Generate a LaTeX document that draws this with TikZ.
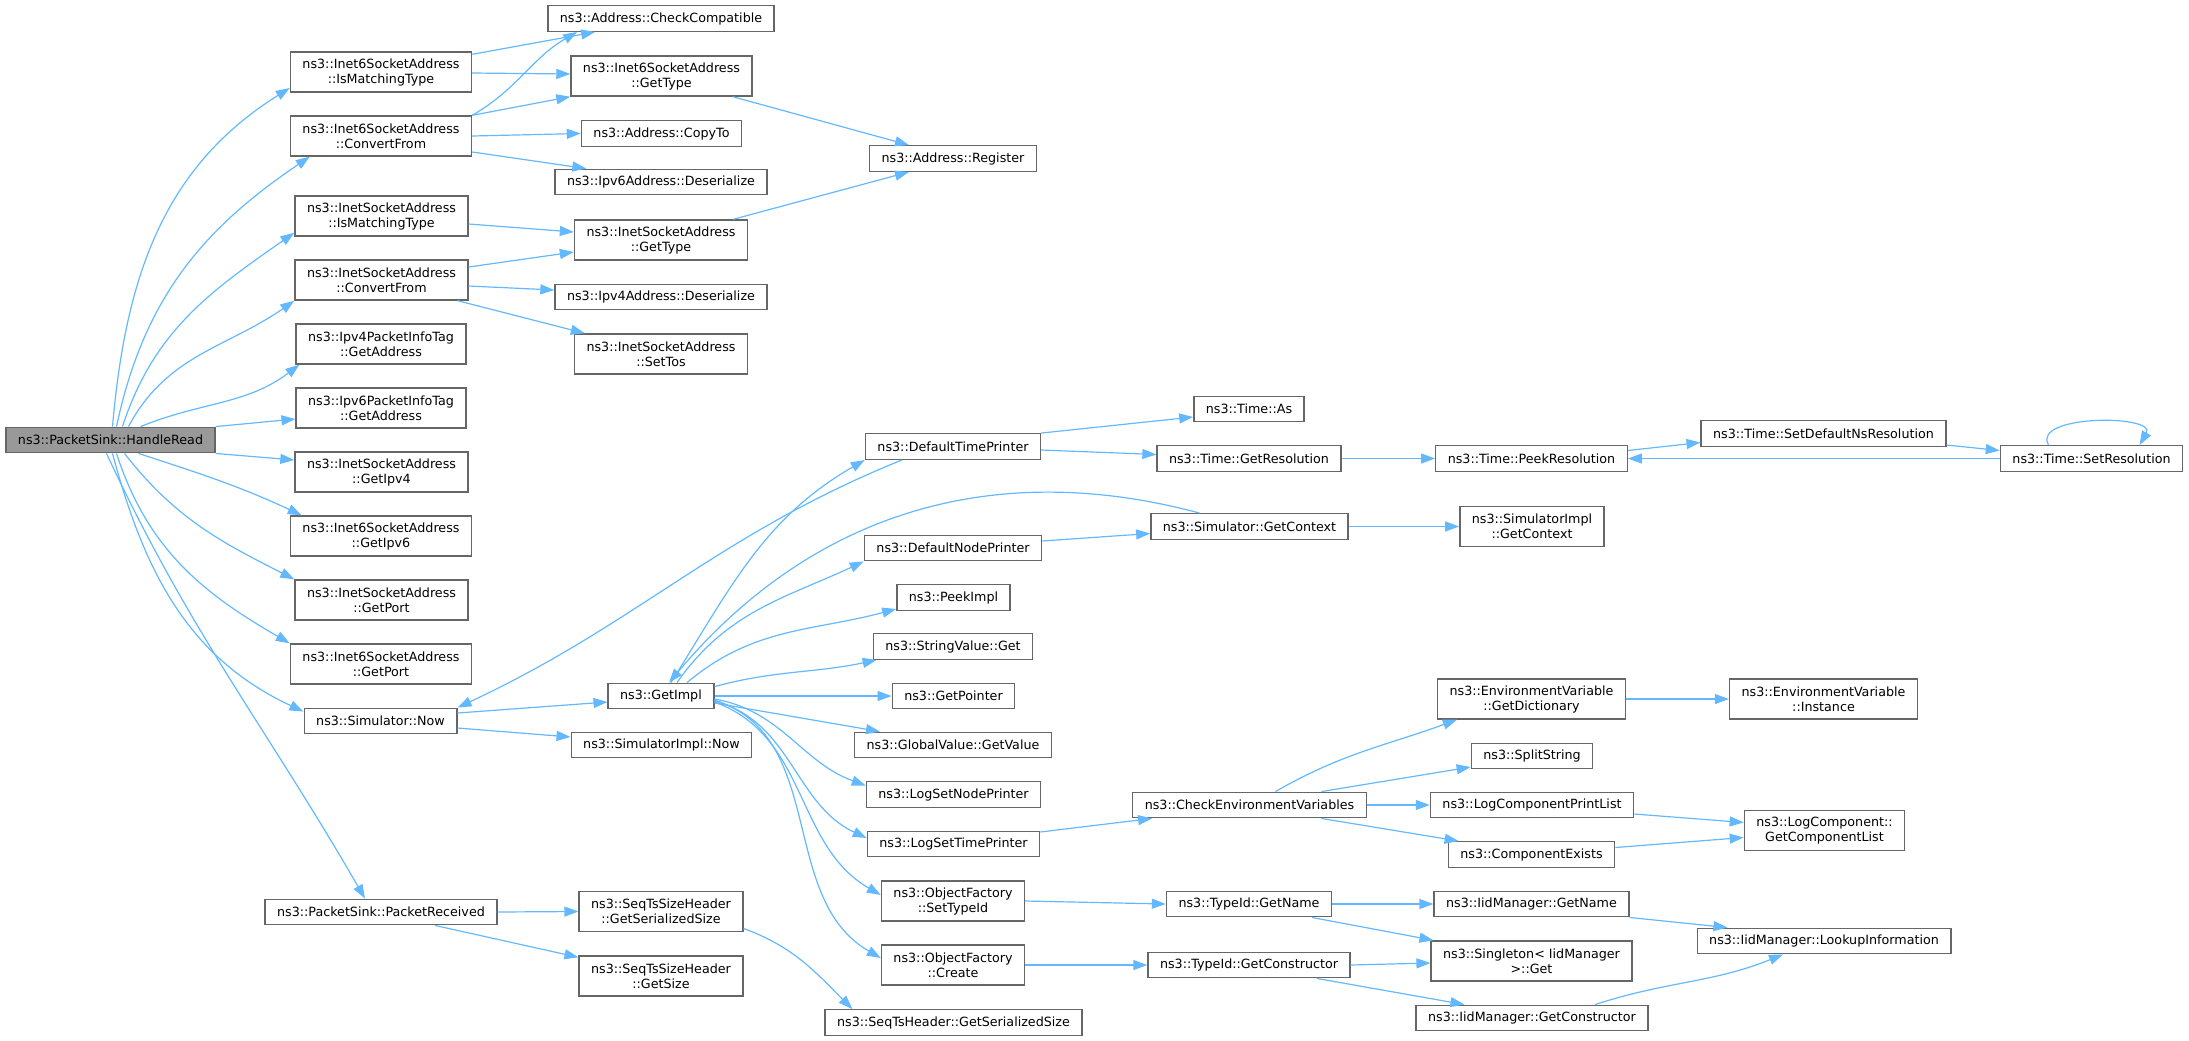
\documentclass[tikz,border=0pt]{standalone}
\usepackage{fontspec}
\setmainfont{DejaVu Sans}
\usepackage{tikz}
\usetikzlibrary{arrows.meta}
\definecolor{edgeblue}{HTML}{63B8FF}
\definecolor{boxgray}{HTML}{666666}
\definecolor{rootgray}{HTML}{999999}
\tikzset{>={Triangle[length=7pt,width=5pt]},
  fn/.style={draw=boxgray,fill=white,line width=0.7pt,inner xsep=6pt,inner ysep=1pt,
    minimum height=12.75pt,font=\fontsize{6.35pt}{7.5pt}\selectfont},
  fn2/.style={fn,align=center,minimum height=20pt},
  root/.style={fn,fill=rootgray},
  call/.style={->,color=edgeblue,line width=0.6pt}}

\begin{document}
\begin{tikzpicture}[x=0.5pt,y=0.5pt]
\useasboundingbox (0,0) rectangle (2189,-1040);
\node[root] (hr) at (110.5,-440) {ns3::PacketSink::HandleRead};
\node[fn2] (i6match) at (381,-72) {ns3::Inet6SocketAddress\\::IsMatchingType};
\node[fn2] (i6conv) at (381,-136) {ns3::Inet6SocketAddress\\::ConvertFrom};
\node[fn2] (imatch) at (381.5,-216) {ns3::InetSocketAddress\\::IsMatchingType};
\node[fn2] (iconv) at (381.5,-280) {ns3::InetSocketAddress\\::ConvertFrom};
\node[fn2] (v4tag) at (381,-344) {ns3::Ipv4PacketInfoTag\\::GetAddress};
\node[fn2] (v6tag) at (381,-408) {ns3::Ipv6PacketInfoTag\\::GetAddress};
\node[fn2] (getv4) at (381.5,-472) {ns3::InetSocketAddress\\::GetIpv4};
\node[fn2] (getv6) at (381,-536) {ns3::Inet6SocketAddress\\::GetIpv6};
\node[fn2] (iport) at (381.5,-600) {ns3::InetSocketAddress\\::GetPort};
\node[fn2] (i6port) at (381,-664) {ns3::Inet6SocketAddress\\::GetPort};
\node[fn] (snow) at (380.5,-721) {ns3::Simulator::Now};
\node[fn] (prcv) at (381,-912) {ns3::PacketSink::PacketReceived};

\node[fn] (cc) at (661,-18.5) {ns3::Address::CheckCompatible};
\node[fn2] (i6type) at (661.5,-76) {ns3::Inet6SocketAddress\\::GetType};
\node[fn] (copyto) at (661.5,-133.5) {ns3::Address::CopyTo};
\node[fn] (v6des) at (661,-182) {ns3::Ipv6Address::Deserialize};
\node[fn2] (itype) at (661,-240) {ns3::InetSocketAddress\\::GetType};
\node[fn] (v4des) at (661,-297) {ns3::Ipv4Address::Deserialize};
\node[fn2] (settos) at (661,-354) {ns3::InetSocketAddress\\::SetTos};
\node[fn] (gimpl) at (661,-696) {ns3::GetImpl};
\node[fn] (sinow) at (661.5,-745) {ns3::SimulatorImpl::Now};
\node[fn2] (tsssz) at (661,-911.5) {ns3::SeqTsSizeHeader\\::GetSerializedSize};
\node[fn2] (tsgsz) at (661,-976) {ns3::SeqTsSizeHeader\\::GetSize};

\node[fn] (reg) at (953,-158.5) {ns3::Address::Register};
\node[fn] (dtp) at (953,-446.5) {ns3::DefaultTimePrinter};
\node[fn] (dnp) at (953,-548) {ns3::DefaultNodePrinter};
\node[fn] (peek) at (953.5,-597.5) {ns3::PeekImpl};
\node[fn] (strget) at (953,-646.5) {ns3::StringValue::Get};
\node[fn] (getptr) at (953.5,-696) {ns3::GetPointer};
\node[fn] (gvget) at (953,-745) {ns3::GlobalValue::GetValue};
\node[fn] (lsnp) at (953.5,-794.5) {ns3::LogSetNodePrinter};
\node[fn] (lstp) at (953.5,-844) {ns3::LogSetTimePrinter};
\node[fn2] (ofst) at (953,-901) {ns3::ObjectFactory\\::SetTypeId};
\node[fn2] (ofcr) at (953,-965) {ns3::ObjectFactory\\::Create};
\node[fn] (tshsz) at (953.5,-1022.5) {ns3::SeqTsHeader::GetSerializedSize};

\node[fn] (tas) at (1249,-409) {ns3::Time::As};
\node[fn] (tgres) at (1249,-458.5) {ns3::Time::GetResolution};
\node[fn] (sgc) at (1249.5,-526.5) {ns3::Simulator::GetContext};
\node[fn] (cenv) at (1249.5,-805) {ns3::CheckEnvironmentVariables};
\node[fn] (tgname) at (1249,-904) {ns3::TypeId::GetName};
\node[fn] (tgctor) at (1249,-965) {ns3::TypeId::GetConstructor};

\node[fn] (tpeek) at (1531.5,-458.5) {ns3::Time::PeekResolution};
\node[fn2] (sic) at (1532,-526.5) {ns3::SimulatorImpl\\::GetContext};
\node[fn2] (evdict) at (1531.5,-699) {ns3::EnvironmentVariable\\::GetDictionary};
\node[fn] (split) at (1532,-756) {ns3::SplitString};
\node[fn] (lcpl) at (1532,-805) {ns3::LogComponentPrintList};
\node[fn] (cexists) at (1531.5,-854.5) {ns3::ComponentExists};
\node[fn] (iigname) at (1531.5,-904) {ns3::IidManager::GetName};
\node[fn2] (singl) at (1531.5,-961) {ns3::Singleton< IidManager\\ >::Get};
\node[fn] (iigctor) at (1532,-1018) {ns3::IidManager::GetConstructor};

\node[fn] (tsdns) at (1823.5,-433.5) {ns3::Time::SetDefaultNsResolution};
\node[fn2] (evinst) at (1823.5,-699) {ns3::EnvironmentVariable\\::Instance};
\node[fn2] (lcgcl) at (1824.5,-830.5) {ns3::LogComponent::\\GetComponentList};
\node[fn] (iilookup) at (1824,-941) {ns3::IidManager::LookupInformation};
\node[fn] (tsres) at (2091.5,-458.5) {ns3::Time::SetResolution};

\path[call]
([xshift=1pt]hr.north) edge[out=85,in=-148] ([yshift=-8pt]i6match.west)
([xshift=3pt]hr.north) edge[out=78,in=-146] ([xshift=10pt]i6conv.south west)
([xshift=6pt]hr.north) edge[out=72,in=-145] ([yshift=2pt]imatch.south west)
([xshift=9pt]hr.north) edge[out=62,in=-145] (iconv.south west)
([xshift=15pt]hr.north) edge[out=22,in=-143] ([xshift=2pt]v4tag.south west)
(hr.north east) edge ([yshift=-5.5pt]v6tag.west)
(hr.south east) edge ([yshift=6pt]getv4.west)
([xshift=14pt]hr.south) edge[out=-18,in=155] ([xshift=6pt]getv6.north west)
([xshift=7pt]hr.south) edge[out=-52,in=153] (iport.north west)
([xshift=3pt]hr.south) edge[out=-72,in=150] (i6port.north west)
([xshift=1pt]hr.south) edge[out=-75,in=155] ([yshift=-2pt]snow.north west)
([xshift=-2pt]hr.south) edge[out=-65,in=120] ([xshift=-8pt]prcv.north)
([yshift=-1.5pt]i6match.north east) edge ([xshift=24pt]cc.south west)
([yshift=-0.5pt]i6match.east) edge ([yshift=1pt]i6type.west)
(i6conv.north east) edge[out=30,in=-150] ([xshift=15pt]cc.south west)
(i6conv.north east) edge (i6type.south west)
(i6conv.east) edge (copyto.west)
([yshift=-8pt]i6conv.east) edge ([xshift=16pt]v6des.north west)
([yshift=-4pt]imatch.east) edge ([yshift=4pt]itype.west)
([yshift=6.5pt]iconv.east) edge ([yshift=-6pt]itype.west)
([yshift=-3pt]iconv.east) edge ([yshift=3.5pt]v4des.west)
([xshift=-5.5pt]iconv.south east) edge ([xshift=5.5pt]settos.north west)
([xshift=-10pt]i6type.south east) edge ([xshift=20pt]reg.north west)
([xshift=-7.5pt]itype.north east) edge ([xshift=20pt]reg.south west)
([yshift=4pt]snow.east) edge ([yshift=-3pt]gimpl.west)
([yshift=-3.5pt]snow.east) edge ([yshift=4pt]sinow.west)
([xshift=-25.5pt]dtp.south) edge[out=-158,in=25] (snow.north east)
([xshift=5pt]gimpl.north) edge[out=58,in=-150] (dtp.south west)
([xshift=-25pt]sgc.north) edge[out=165,in=50] ([xshift=4pt]gimpl.north)
([xshift=8pt]gimpl.north) edge[out=55,in=-155] (dnp.south west)
([xshift=13pt]gimpl.north) edge[out=40,in=-165] ([yshift=1pt]peek.south west)
([yshift=-2pt]gimpl.north east) edge[out=15,in=-168] ([xshift=2pt]strget.south west)
(gimpl.east) edge (getptr.west)
([yshift=-3.5pt]gimpl.east) edge ([xshift=13pt]gvget.north west)
([yshift=-1.5pt]gimpl.east) edge[out=-10,in=160] ([yshift=4.5pt]lsnp.west)
([yshift=-2.5pt]gimpl.east) edge[out=-15,in=155] ([yshift=3pt]lstp.west)
([yshift=-3pt]gimpl.east) edge[out=-20,in=150] ([yshift=3pt]ofst.west)
([yshift=-2pt]gimpl.east) edge[out=-18,in=150] ([yshift=3.5pt]ofcr.west)
(prcv.east) edge (tsssz.west)
([xshift=27pt]prcv.south) edge ([yshift=-1pt]tsgsz.north west)
([yshift=-8.5pt]tsssz.east) edge[out=-20,in=135] ([xshift=14pt]tshsz.north west)
(dtp.north east) edge ([yshift=-4pt]tas.west)
([yshift=-1.75pt]dtp.east) edge ([yshift=2pt]tgres.west)
(tgres.east) edge (tpeek.west)
([yshift=4pt]tpeek.east) edge ([yshift=-4.5pt]tsdns.west)
([yshift=-5.75pt]tsdns.east) edge ([yshift=4pt]tsres.west)
(tsres.west) edge (tpeek.east)
([xshift=-21.5pt]tsres.north) edge[out=120,in=60] ([xshift=24pt]tsres.north)
([yshift=3.5pt]dnp.east) edge ([yshift=-3.5pt]sgc.west)
(sgc.east) edge (sic.west)
([yshift=6pt]lstp.east) edge ([xshift=10pt]cenv.south west)
(ofst.east) edge (tgname.west)
(ofcr.east) edge (tgctor.west)
([xshift=13pt]cenv.north) edge[out=30,in=-160] ([xshift=10pt]evdict.south west)
([xshift=36pt]cenv.north) edge ([yshift=-5.5pt]split.west)
(cenv.east) edge (lcpl.west)
([xshift=36pt]cenv.south) edge ([xshift=5.5pt]cexists.north west)
(tgname.east) edge (iigname.west)
([xshift=31.5pt]tgname.south) edge ([xshift=1.5pt]singl.north west)
(tgctor.east) edge ([yshift=-1pt]singl.west)
([xshift=34pt]tgctor.south) edge ([xshift=24.5pt]iigctor.north west)
(evdict.east) edge (evinst.west)
([yshift=-4.5pt]lcpl.east) edge ([yshift=4pt]lcgcl.west)
([yshift=3.5pt]cexists.east) edge ([yshift=-3.5pt]lcgcl.west)
(iigname.south east) edge ([xshift=15.5pt]iilookup.north west)
([xshift=31.5pt]iigctor.north) edge[out=18,in=-158] ([xshift=-20.5pt]iilookup.south);

\end{tikzpicture}
\end{document}
